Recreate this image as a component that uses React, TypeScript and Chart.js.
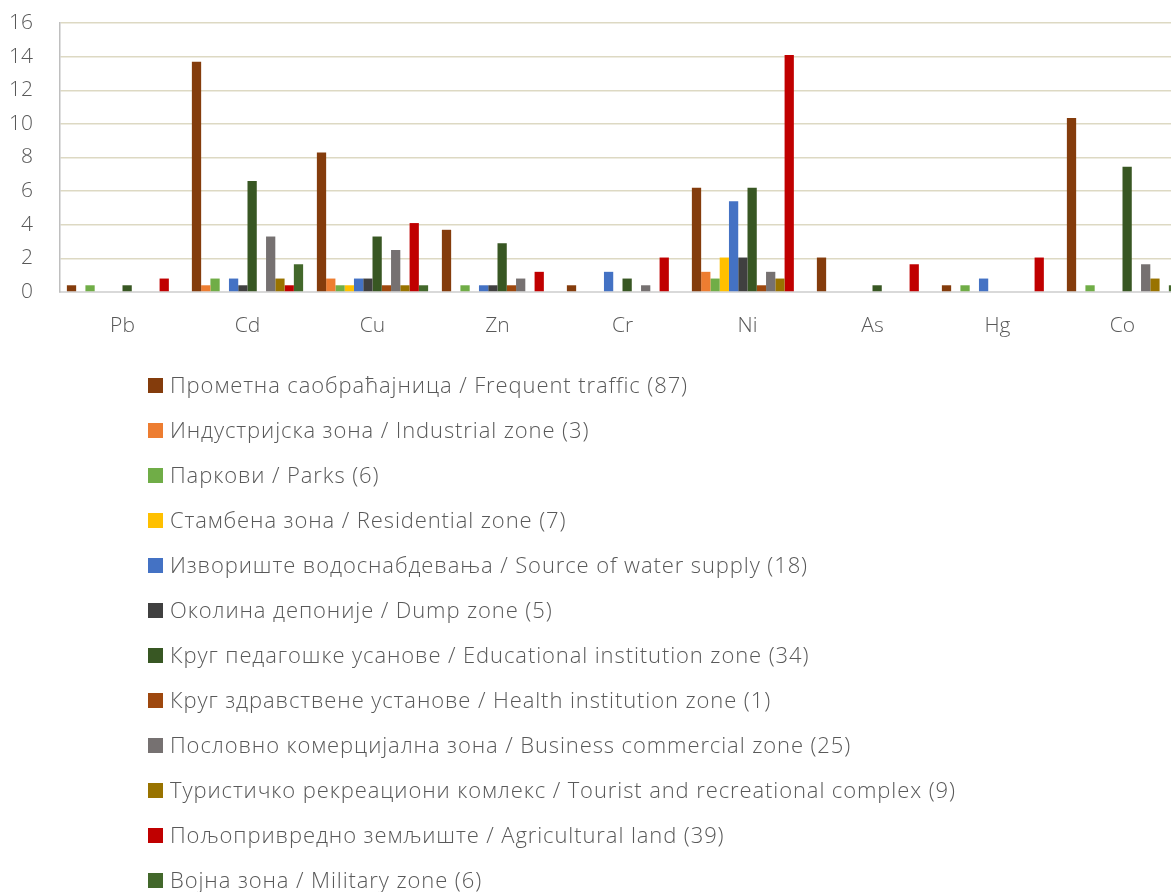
import React, { useEffect, useRef } from "react";
import { Chart, registerables } from "chart.js";

Chart.register(...registerables);

const categories = ["Pb", "Cd", "Cu", "Zn", "Cr", "Ni", "As", "Hg", "Co"];

const seriesLabels = [
  "Прометна саобраћајница / Frequent traffic (87)",
  "Индустријска зона / Industrial zone (3)",
  "Паркови / Parks (6)",
  "Стамбена зона / Residential zone (7)",
  "Извориште водоснабдевања / Source of water supply (18)",
  "Околина депоније / Dump zone (5)",
  "Круг педагошке усанове / Educational institution zone (34)",
  "Круг здравствене установе / Health institution zone (1)",
  "Пословно комерцијална зона / Business commercial zone (25)",
  "Туристичко рекреациони комлекс / Tourist and recreational complex (9)",
  "Пољопривредно земљиште / Agricultural land (39)",
  "Војна зона / Military zone (6)",
];

const seriesColors = [
  "#843C0C",
  "#ED7D31",
  "#70AD47",
  "#FFC000",
  "#4472C4",
  "#404040",
  "#385723",
  "#9E480E",
  "#767171",
  "#997300",
  "#C00000",
  "#43682B",
];

const frequentTraffic = [0.4, 13.7, 8.3, 3.7, 0.4, 6.2, 2.05, 0.4, 10.35];
const industrialZone = [0, 0.4, 0.8, 0, 0, 1.2, 0, 0, 0];
const parks = [0.4, 0.8, 0.4, 0.4, 0, 0.8, 0, 0.4, 0.4];
const residentialZone = [0, 0, 0.4, 0, 0, 2.05, 0, 0, 0];
const waterSupply = [0, 0.8, 0.8, 0.4, 1.2, 5.4, 0, 0.8, 0];
const dumpZone = [0, 0.4, 0.8, 0.4, 0, 2.05, 0, 0, 0];
const educationalZone = [0.4, 6.6, 3.3, 2.9, 0.8, 6.2, 0.4, 0, 7.45];
const healthZone = [0, 0, 0.4, 0.4, 0, 0.4, 0, 0, 0];
const businessZone = [0, 3.3, 2.5, 0.8, 0.4, 1.2, 0, 0, 1.65];
const touristComplex = [0, 0.8, 0.4, 0, 0, 0.8, 0, 0, 0.8];
const agriculturalLand = [0.8, 0.4, 4.1, 1.2, 2.05, 14.1, 1.65, 2.05, 0];
const militaryZone = [0, 1.65, 0.4, 0, 0, 0, 0, 0, 0.4];

const seriesValues = [
  frequentTraffic,
  industrialZone,
  parks,
  residentialZone,
  waterSupply,
  dumpZone,
  educationalZone,
  healthZone,
  businessZone,
  touristComplex,
  agriculturalLand,
  militaryZone,
];

const yTicks = [0, 2, 4, 6, 8, 10, 12, 14, 16];

const FONT = '"Open Sans", "Noto Sans", sans-serif';
const TEXT_COLOR = "#595959";

const columnLegend = {
  id: "columnLegend",
  afterDraw(chart: any) {
    const ctx = chart.ctx;
    const area = chart.chartArea;
    ctx.save();
    ctx.font = `300 22px ${FONT}`;
    try {
      (ctx as any).letterSpacing = "0.9px";
    } catch (e) {}
    ctx.textBaseline = "middle";
    ctx.textAlign = "left";
    chart.data.datasets.forEach((ds: any, i: number) => {
      const cy = area.bottom + 93.5 + i * 45;
      ctx.fillStyle = ds.backgroundColor;
      ctx.fillRect(148, cy - 7.5, 15, 15);
      ctx.fillStyle = TEXT_COLOR;
      ctx.fillText(ds.label, 170, cy + 1);
    });
    ctx.restore();
  },
};

export default function App() {
  const canvasRef = useRef<HTMLCanvasElement | null>(null);

  useEffect(() => {
    const canvas = canvasRef.current;
    if (!canvas) return;
    const chart = new Chart(canvas, {
      type: "bar",
      data: {
        labels: categories,
        datasets: seriesLabels.map((label, i) => ({
          label,
          data: seriesValues[i],
          backgroundColor: seriesColors[i],
          borderWidth: 0,
          categoryPercentage: 0.89,
          barPercentage: 1,
        })),
      },
      options: {
        responsive: false,
        animation: false,
        layout: { padding: { top: 23, right: 0, bottom: 552, left: 0 } },
        plugins: {
          legend: { display: false },
          tooltip: { enabled: false },
        },
        scales: {
          x: {
            grid: { display: false, drawTicks: false },
            border: { display: true, color: "#D9D9D9", width: 2 },
            ticks: {
              color: TEXT_COLOR,
              font: { family: FONT, size: 21, weight: "300" },
              padding: 21,
            },
            afterFit: (s: any) => {
              s.height = 48;
              s.paddingLeft = 0;
              s.paddingRight = 0;
            },
          },
          y: {
            min: 0,
            max: 16,
            afterBuildTicks: (s: any) => {
              s.ticks = yTicks.map((v) => ({ value: v }));
            },
            grid: {
              color: "#DDD9C3",
              lineWidth: 1.5,
              drawTicks: false,
            },
            border: { display: true, color: "#BFBFBF", width: 1.5 },
            ticks: {
              color: TEXT_COLOR,
              font: { family: FONT, size: 21, weight: "300" },
              padding: 27,
            },
            afterFit: (s: any) => {
              s.width = 60;
              s.paddingTop = 0;
              s.paddingBottom = 0;
            },
          },
        },
      },
      plugins: [columnLegend],
    });
    return () => chart.destroy();
  }, []);

  return (
    <div
      style={{
        position: "absolute",
        left: 0,
        top: 0,
        width: 1171,
        height: 892,
        overflow: "hidden",
        background: "#fff",
      }}
    >
      <canvas ref={canvasRef} width={1185} height={892} style={{ display: "block" }} />
    </div>
  );
}
